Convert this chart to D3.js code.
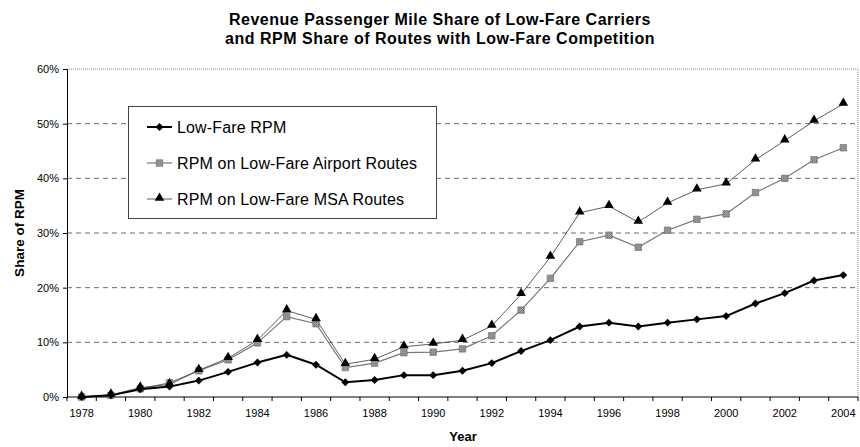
<!DOCTYPE html>
<html>
<head>
<meta charset="utf-8">
<script src="https://cdn.jsdelivr.net/npm/d3@7"></script>
<style>
  body { margin: 0; background: #fff; }
  text { font-family: "Liberation Sans", Arial, sans-serif; }
</style>
</head>
<body>
<div id="chart"></div>
<script>
// Data
var years = d3.range(1978, 2005);
var lowFare = [0, 0.3, 1.4, 1.9, 3.0, 4.6, 6.3, 7.7, 5.9, 2.7, 3.1, 4.0, 4.0, 4.8, 6.2, 8.4, 10.4, 12.9, 13.6, 12.9, 13.6, 14.2, 14.8, 17.1, 19.0, 21.3, 22.3];
var airportRoutes = [0, 0.3, 1.5, 2.6, 4.8, 6.8, 9.9, 14.7, 13.4, 5.4, 6.2, 8.1, 8.2, 8.8, 11.2, 15.9, 21.7, 28.4, 29.6, 27.4, 30.5, 32.5, 33.5, 37.4, 40.0, 43.4, 45.6];
var msaRoutes = [0, 0.4, 1.7, 2.3, 4.9, 7.1, 10.4, 15.8, 14.2, 6.0, 6.9, 9.2, 9.7, 10.4, 13.0, 18.8, 25.6, 33.7, 34.9, 32.0, 35.5, 37.9, 39.0, 43.4, 46.9, 50.5, 53.6];
var yTicks = [0, 10, 20, 30, 40, 50, 60];
var seriesNames = ["Low-Fare RPM", "RPM on Low-Fare Airport Routes", "RPM on Low-Fare MSA Routes"];

var w = 860, h = 447;
var plotLeft = 67, plotRight = 858, plotTop = 69, plotBottom = 397;

var svg = d3.select("#chart").append("svg")
  .attr("width", w)
  .attr("height", h);

// pattern for the grey square markers
var defs = svg.append("defs");
var pat = defs.append("pattern")
  .attr("id", "hatch")
  .attr("width", 2).attr("height", 2)
  .attr("patternUnits", "userSpaceOnUse");
pat.append("rect").attr("width", 2).attr("height", 2).attr("fill", "#bbb");
pat.append("rect").attr("width", 1).attr("height", 1).attr("fill", "#555");
pat.append("rect").attr("x", 1).attr("y", 1).attr("width", 1).attr("height", 1).attr("fill", "#777");

var xScale = d3.scaleBand()
  .domain(years)
  .range([plotLeft, plotRight]);

var yScale = d3.scaleLinear()
  .domain([0, 60])
  .range([plotBottom, plotTop]);

function cx(d, i) { return xScale(years[i]) + xScale.bandwidth() / 2; }

// gridlines
svg.append("g")
  .selectAll("line")
  .data(yTicks.filter(function(t) { return t > 0 && t < 60; }))
  .enter()
  .append("line")
  .attr("x1", plotLeft).attr("x2", plotRight)
  .attr("y1", function(d) { return yScale(d); })
  .attr("y2", function(d) { return yScale(d); })
  .attr("stroke", "#444")
  .attr("stroke-width", 0.8)
  .attr("stroke-dasharray", "5,4");

// dotted plot border (top and right)
svg.append("path")
  .attr("d", "M" + plotLeft + "," + yScale(60) + "H" + plotRight + "V" + plotBottom)
  .attr("fill", "none")
  .attr("stroke", "#888")
  .attr("stroke-width", 1)
  .attr("stroke-dasharray", "1,1");

// y-axis
var yAxis = svg.append("g")
  .attr("transform", "translate(" + plotLeft + ",0)")
  .call(d3.axisLeft(yScale).tickValues(yTicks).tickSize(4).tickPadding(4).tickFormat(function(d) { return d + "%"; }));
yAxis.select(".domain").attr("stroke", "#000");
yAxis.selectAll("text").style("font-size", "11px").attr("fill", "#000");

// x-axis: ticks at band boundaries, labels every other year
var xAxis = svg.append("g")
  .attr("transform", "translate(0," + plotBottom + ")");
xAxis.append("line")
  .attr("x1", plotLeft).attr("x2", plotRight)
  .attr("stroke", "#000");
xAxis.selectAll(".tk")
  .data(years.concat([2005]))
  .enter()
  .append("line")
  .attr("class", "tk")
  .attr("x1", function(d) { return plotLeft + (d - 1978) * xScale.step(); })
  .attr("x2", function(d) { return plotLeft + (d - 1978) * xScale.step(); })
  .attr("y1", 0).attr("y2", 4)
  .attr("stroke", "#000");
xAxis.selectAll(".lbl")
  .data(years.filter(function(y) { return y % 2 === 0; }))
  .enter()
  .append("text")
  .attr("class", "lbl")
  .attr("x", function(d) { return xScale(d) + xScale.bandwidth() / 2; })
  .attr("y", 20)
  .attr("text-anchor", "middle")
  .style("font-size", "11px")
  .text(function(d) { return d; });

// lines
var line = d3.line()
  .x(cx)
  .y(function(d) { return yScale(d); });

svg.append("path").datum(airportRoutes)
  .attr("d", line).attr("fill", "none")
  .attr("stroke", "#777").attr("stroke-width", 1.2);
svg.append("path").datum(msaRoutes)
  .attr("d", line).attr("fill", "none")
  .attr("stroke", "#333").attr("stroke-width", 0.8);
svg.append("path").datum(lowFare)
  .attr("d", line).attr("fill", "none")
  .attr("stroke", "#000").attr("stroke-width", 2);

var diamond = d3.symbol().type(d3.symbolDiamond2).size(40);
var square = d3.symbol().type(d3.symbolSquare).size(42);
var triangle = d3.symbol().type(d3.symbolTriangle).size(40);

svg.append("g").selectAll("path")
  .data(airportRoutes).enter().append("path")
  .attr("d", square)
  .attr("transform", function(d, i) { return "translate(" + cx(d, i) + "," + yScale(d) + ")"; })
  .attr("fill", "url(#hatch)")
  .attr("stroke", "#666").attr("stroke-width", 0.6);

svg.append("g").selectAll("path")
  .data(msaRoutes).enter().append("path")
  .attr("d", triangle)
  .attr("transform", function(d, i) { return "translate(" + cx(d, i) + "," + (yScale(d) - 1) + ")"; })
  .attr("fill", "#000");

svg.append("g").selectAll("path")
  .data(lowFare).enter().append("path")
  .attr("d", diamond)
  .attr("transform", function(d, i) { return "translate(" + cx(d, i) + "," + yScale(d) + ")"; })
  .attr("fill", "#000");

// legend
var lg = svg.append("g");
lg.append("rect")
  .attr("x", 128.5).attr("y", 106.5)
  .attr("width", 308).attr("height", 112)
  .attr("fill", "#fff")
  .attr("stroke", "#444").attr("stroke-width", 1);

var legendRows = [
  { y: 127, stroke: "#000", sw: 2, sym: diamond, fill: "#000" },
  { y: 163, stroke: "#777", sw: 1.2, sym: square, fill: "url(#hatch)" },
  { y: 199, stroke: "#333", sw: 0.8, sym: triangle, fill: "#000" }
];
legendRows.forEach(function(r, i) {
  lg.append("line")
    .attr("x1", 147).attr("x2", 172)
    .attr("y1", r.y).attr("y2", r.y)
    .attr("stroke", r.stroke).attr("stroke-width", r.sw);
  lg.append("path")
    .attr("d", r.sym)
    .attr("transform", "translate(159.5," + (i === 2 ? r.y - 1 : r.y) + ")")
    .attr("fill", r.fill)
    .attr("stroke", i === 1 ? "#666" : "none")
    .attr("stroke-width", 0.6);
  lg.append("text")
    .attr("x", 177).attr("y", r.y + 6)
    .style("font-size", "16px")
    .style("letter-spacing", "0.15px")
    .text(seriesNames[i]);
});

// titles
svg.append("text")
  .attr("x", 440).attr("y", 24.5)
  .attr("text-anchor", "middle")
  .attr("font-weight", "bold")
  .style("font-size", "16px")
  .style("letter-spacing", "0.5px")
  .text("Revenue Passenger Mile Share of Low-Fare Carriers");
svg.append("text")
  .attr("x", 440).attr("y", 44)
  .attr("text-anchor", "middle")
  .attr("font-weight", "bold")
  .style("font-size", "16px")
  .style("letter-spacing", "0.5px")
  .text("and RPM Share of Routes with Low-Fare Competition");

svg.append("text")
  .attr("transform", "rotate(-90)")
  .attr("x", -233).attr("y", 24)
  .attr("text-anchor", "middle")
  .attr("font-weight", "bold")
  .style("font-size", "13.5px")
  .text("Share of RPM");

svg.append("text")
  .attr("x", 463).attr("y", 441)
  .attr("text-anchor", "middle")
  .attr("font-weight", "bold")
  .style("font-size", "13px")
  .text("Year");
</script>
</body>
</html>
